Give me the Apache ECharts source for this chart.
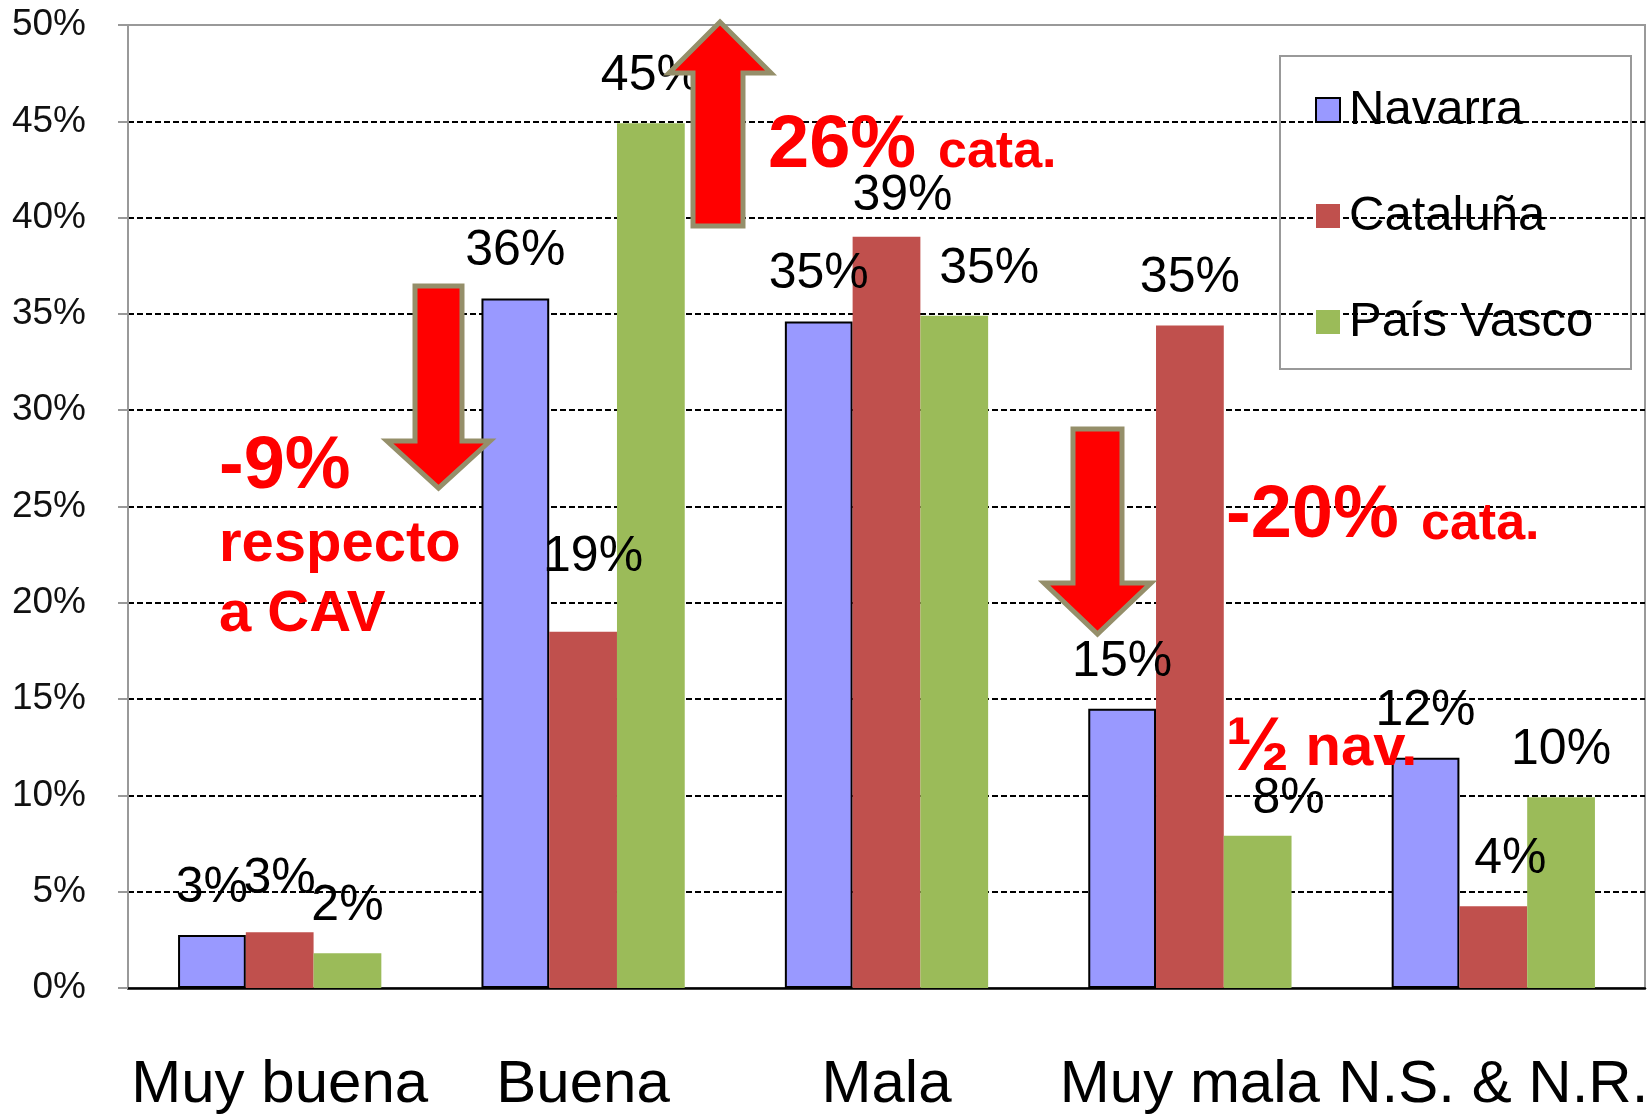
<!DOCTYPE html>
<html lang="es">
  <head>
    <meta charset="UTF-8" />
    <title>Valoración por comunidad</title>
    <script src="https://cdn.jsdelivr.net/npm/echarts@6/dist/echarts.min.js"></script>
    <style>
      html, body { margin: 0; padding: 0; background: #fff; }
      #chart { width: 1652px; height: 1115px; }
    </style>
  </head>
  <body>
    <div id="chart"></div>
    <script>
      // datos (%)
      const categories = ['Muy buena', 'Buena', 'Mala', 'Muy mala', 'N.S. & N.R.'];
      const navarra = [2.75, 35.8, 34.6, 14.5, 11.95];
      const cataluna = [2.9, 18.5, 39.0, 34.4, 4.25];
      const paisVasco = [1.8, 44.9, 34.9, 7.9, 9.9];

      // etiquetas tal como aparecen
      const navarraLabels = ['3%', '36%', '35%', '15%', '12%'];
      const catalunaLabels = ['3%', '19%', '39%', '35%', '4%'];
      const paisVascoLabels = ['2%', '45%', '35%', '8%', '10%'];

      // pequeños desplazamientos de etiqueta (como en el original)
      const navarraNudge = [[0, 0], [0, 0], [0, 0], [0, 0], [0, 0]];
      const catalunaNudge = [[0, -6], [10, -27], [16, 6], [0, 0], [17, 0]];
      const paisVascoNudge = [[0, 0], [0, 0], [35, 0], [31, 10], [0, 0]];

      const FONT = '"Liberation Sans", Arial, sans-serif';
      const RED = '#FF0000';
      const OLIVE = '#958F6A';

      const chart = echarts.init(document.getElementById('chart'));

      function build(values, labels, nudge) {
        return values.map((v, i) => ({
          value: v,
          label: { formatter: labels[i], offset: nudge[i] }
        }));
      }

      function barSeries(name, color, values, labels, nudge, border) {
        return {
          name: name,
          type: 'bar',
          barGap: '0%',
          barCategoryGap: '33%',
          itemStyle: {
            color: color,
            borderColor: border ? '#000' : color,
            borderWidth: border ? 2 : 0
          },
          label: {
            show: true,
            position: 'top',
            distance: 22,
            color: '#000',
            fontFamily: FONT,
            fontSize: 50
          },
          data: build(values, labels, nudge)
        };
      }

      function arrowDown(x1, x2, top, hx1, hx2, headTop, tipY) {
        const cx = (hx1 + hx2) / 2;
        return {
          type: 'polygon',
          z: 100,
          shape: {
            points: [[x1, top], [x2, top], [x2, headTop], [hx2, headTop], [cx, tipY], [hx1, headTop], [x1, headTop]]
          },
          style: { fill: RED, stroke: OLIVE, lineWidth: 5, lineJoin: 'miter' }
        };
      }

      function arrowUp(x1, x2, bottom, hx1, hx2, headBase, tipY) {
        const cx = (hx1 + hx2) / 2;
        return {
          type: 'polygon',
          z: 100,
          shape: {
            points: [[x1, bottom], [x2, bottom], [x2, headBase], [hx2, headBase], [cx, tipY], [hx1, headBase], [x1, headBase]]
          },
          style: { fill: RED, stroke: OLIVE, lineWidth: 5, lineJoin: 'miter' }
        };
      }

      function note(text, x, y, size, rich) {
        return {
          type: 'text',
          z: 110,
          x: x,
          y: y,
          style: {
            text: text,
            fill: RED,
            font: 'bold ' + size + 'px ' + FONT,
            align: 'left',
            verticalAlign: 'middle',
            rich: rich
          }
        };
      }

      const option = {
        backgroundColor: '#fff',
        animation: false,
        grid: {
          left: 128,
          right: 7,
          top: 25,
          bottom: 125,
          show: true,
          borderColor: '#999',
          borderWidth: 2
        },
        legend: {
          orient: 'vertical',
          left: 1310,
          top: 80,
          itemWidth: 24,
          itemHeight: 24,
          itemGap: 56,
          icon: 'rect',
          textStyle: {
            color: '#000',
            fontFamily: FONT,
            fontSize: 49,
            lineHeight: 50,
            padding: [0, 0, 0, 4]
          },
          data: ['Navarra', 'Cataluña', 'País Vasco']
        },
        xAxis: {
          type: 'category',
          data: categories,
          axisLine: { lineStyle: { color: '#000', width: 2.5 } },
          axisTick: { show: false },
          axisLabel: {
            color: '#000',
            fontFamily: FONT,
            fontSize: 60,
            margin: 67,
            interval: 0
          }
        },
        yAxis: {
          type: 'value',
          min: 0,
          max: 50,
          interval: 5,
          axisLine: { show: true, lineStyle: { color: '#999', width: 2 } },
          axisTick: { show: true, length: 10, lineStyle: { color: '#999', width: 2 } },
          axisLabel: {
            formatter: '{value}%',
            color: '#111',
            fontFamily: FONT,
            fontSize: 37,
            margin: 42,
            padding: [6, 0, 0, 0]
          },
          splitLine: {
            show: true,
            showMinLine: false,
            showMaxLine: false,
            lineStyle: { color: '#000', width: 2, type: [6, 3] }
          }
        },
        series: [
          barSeries('Navarra', '#9999FF', navarra, navarraLabels, navarraNudge, true),
          barSeries('Cataluña', '#C0504D', cataluna, catalunaLabels, catalunaNudge, false),
          barSeries('País Vasco', '#9BBB59', paisVasco, paisVascoLabels, paisVascoNudge, false)
        ],
        graphic: [
          // marco de la leyenda
          {
            type: 'rect',
            z: 90,
            shape: { x: 1280, y: 56, width: 351, height: 313 },
            style: { fill: 'none', stroke: '#999', lineWidth: 2 }
          },
          arrowUp(693, 743, 226, 669, 771, 73, 22),
          arrowDown(415, 462, 286, 387, 490, 441, 488),
          arrowDown(1073, 1122, 429, 1044, 1151, 583, 634),
          note('26%', 768, 147, 74),
          note('cata.', 938, 153, 52),
          note('-9%', 219, 468, 74),
          note('respecto', 219, 545, 58),
          note('a CAV', 219, 615, 58),
          note('-20%', 1226, 517, 74),
          note('cata.', 1421, 525, 52),
          note('{h|½} nav.', 1226, 749, 58, { h: { fontSize: 76, fontWeight: 'bold', fontFamily: FONT, fill: RED } })
        ]
      };

      chart.setOption(option);
    </script>
  </body>
</html>
